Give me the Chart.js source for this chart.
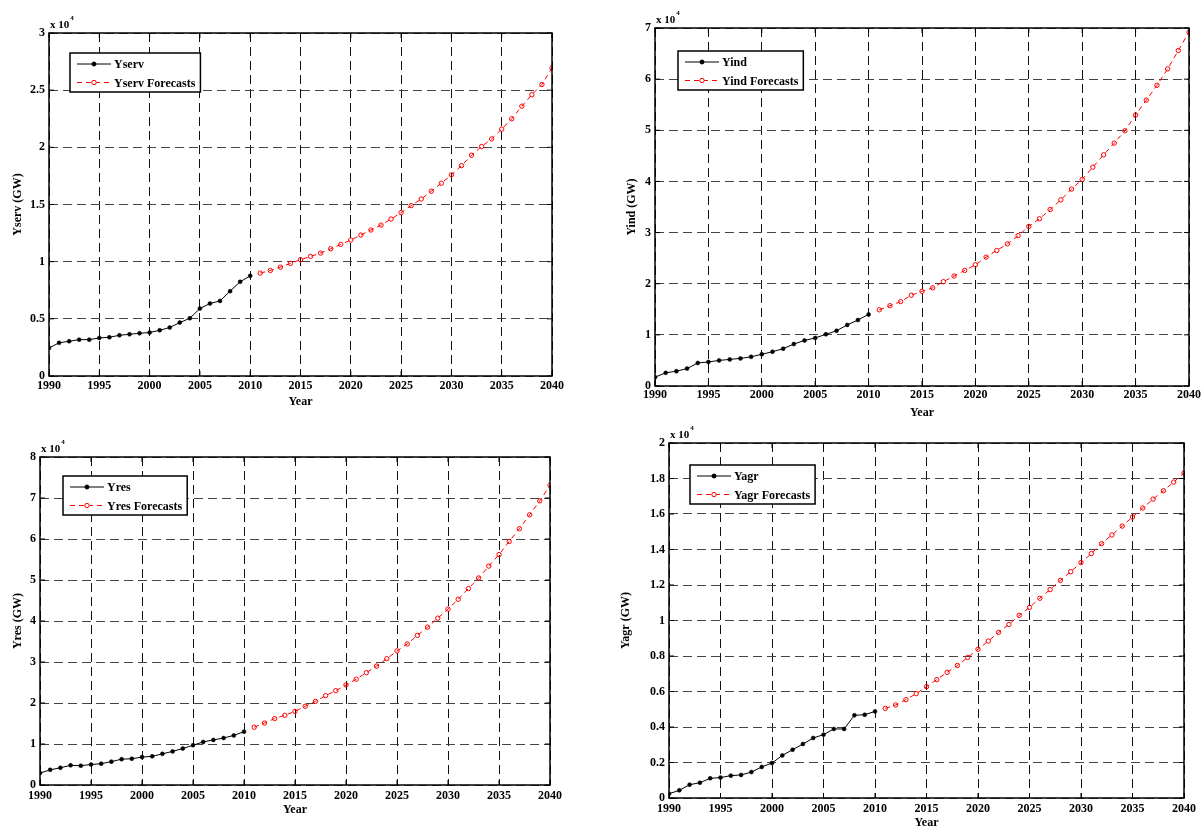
<!DOCTYPE html>
<html>
<head>
<meta charset="utf-8">
<script src="https://cdn.jsdelivr.net/npm/chart.js@4"></script>
<style>
  body { margin: 0; background: #fff; }
  canvas { position: absolute; }
</style>
</head>
<body>
<canvas id="serv" width="600" height="410" style="left:0px;top:0px"></canvas>
<canvas id="ind" width="603" height="420" style="left:600px;top:0px"></canvas>
<canvas id="res" width="600" height="403" style="left:0px;top:415px"></canvas>
<canvas id="agr" width="603" height="411" style="left:600px;top:420px"></canvas>
<script>
const histYears = [1990, 1991, 1992, 1993, 1994, 1995, 1996, 1997, 1998, 1999, 2000,
  2001, 2002, 2003, 2004, 2005, 2006, 2007, 2008, 2009, 2010]
const fcYears = [2011, 2012, 2013, 2014, 2015, 2016, 2017, 2018, 2019, 2020,
  2021, 2022, 2023, 2024, 2025, 2026, 2027, 2028, 2029, 2030,
  2031, 2032, 2033, 2034, 2035, 2036, 2037, 2038, 2039, 2040]

// GW
const servHist = [2450, 2900, 3040, 3180, 3180, 3330, 3390, 3560, 3650, 3740, 3800,
  4000, 4240, 4670, 5050, 5900, 6340, 6570, 7420, 8240, 8760]
const servFc = [9000, 9230, 9520, 9850, 10170, 10460, 10750, 11130, 11510, 11890,
  12330, 12770, 13200, 13730, 14290, 14900, 15480, 16160, 16860, 17590,
  18400, 19310, 20070, 20740, 21590, 22500, 23600, 24600, 25500, 26940]

const indHist = [1730, 2570, 2900, 3400, 4500, 4700, 5000, 5200, 5400, 5700, 6200,
  6700, 7300, 8200, 8900, 9400, 10100, 10800, 11950, 12900, 14000]
const indFc = [14900, 15700, 16500, 17750, 18500, 19200, 20400, 21500, 22600, 23700,
  25200, 26500, 27800, 29400, 31200, 32700, 34500, 36400, 38500, 40400,
  42800, 45200, 47500, 49900, 53000, 55900, 58800, 62000, 65600, 69200]

const resHist = [2900, 3700, 4200, 4800, 4700, 5000, 5200, 5700, 6300, 6400, 6800,
  7000, 7600, 8200, 8900, 9700, 10500, 11000, 11450, 12100, 13000]
const resFc = [14100, 15100, 16200, 17000, 17950, 19200, 20400, 21800, 23000, 24400,
  25800, 27400, 29000, 30800, 32700, 34400, 36500, 38500, 40700, 42900,
  45300, 47900, 50500, 53400, 56200, 59400, 62500, 65900, 69300, 73100]

const agrHist = [240, 430, 750, 860, 1110, 1150, 1260, 1300, 1460, 1750, 1970,
  2400, 2720, 3040, 3380, 3570, 3890, 3890, 4660, 4690, 4880]
const agrFc = [5050, 5240, 5540, 5880, 6270, 6670, 7080, 7470, 7920, 8380,
  8840, 9330, 9780, 10290, 10740, 11250, 11740, 12260, 12750, 13260,
  13770, 14330, 14820, 15320, 15830, 16340, 16840, 17310, 17800, 18310]

const serif = '"Liberation Serif", "Times New Roman", serif'
Chart.defaults.font.family = serif
Chart.defaults.color = '#000'

// matlab style box, inner ticks, exponent and boxed legend
const frame = {
  id: 'frame',
  afterDraw(chart, args, opts) {
    const ctx = chart.ctx
    const a = chart.chartArea
    const xs = chart.scales.x, ys = chart.scales.y
    ctx.save()
    ctx.strokeStyle = '#000'
    ctx.lineWidth = 1
    ctx.setLineDash([])
    ctx.beginPath()
    xs.ticks.forEach(t => {
      const px = xs.getPixelForValue(t.value)
      ctx.moveTo(px, a.bottom); ctx.lineTo(px, a.bottom - 5)
      ctx.moveTo(px, a.top); ctx.lineTo(px, a.top + 5)
    })
    ys.ticks.forEach(t => {
      const py = ys.getPixelForValue(t.value)
      ctx.moveTo(a.left, py); ctx.lineTo(a.left + 5, py)
      ctx.moveTo(a.right, py); ctx.lineTo(a.right - 5, py)
    })
    ctx.stroke()
    ctx.lineWidth = 1.5
    ctx.strokeRect(a.left, a.top, a.right - a.left, a.bottom - a.top)

    ctx.fillStyle = '#000'
    ctx.textBaseline = 'alphabetic'
    ctx.textAlign = 'left'
    ctx.font = 'bold 11px ' + serif
    ctx.fillText('x 10', a.left + 1, a.top - 5)
    const w = ctx.measureText('x 10').width
    ctx.font = 'bold 7px ' + serif
    ctx.fillText('4', a.left + 2 + w, a.top - 13)

    // legend
    const lx = a.left + opts.dx, ly = a.top + opts.dy
    ctx.font = 'bold 12px ' + serif
    const sets = chart.data.datasets
    const tw = Math.max(...sets.map(d => ctx.measureText(d.label).width))
    const bw = 44 + tw + 5, bh = 39
    ctx.fillStyle = '#fff'
    ctx.fillRect(lx, ly, bw, bh)
    ctx.strokeStyle = '#000'
    ctx.lineWidth = 1.5
    ctx.strokeRect(lx, ly, bw, bh)
    sets.forEach((d, i) => {
      const y = ly + 11 + i * 18.5
      ctx.strokeStyle = d.borderColor
      ctx.lineWidth = 1
      ctx.setLineDash(d.borderDash || [])
      ctx.beginPath()
      ctx.moveTo(lx + 7, y); ctx.lineTo(lx + 41, y)
      ctx.stroke()
      ctx.setLineDash([])
      ctx.beginPath()
      ctx.arc(lx + 24, y, d.pointRadius, 0, Math.PI * 2)
      ctx.fillStyle = i == 0 ? d.pointBackgroundColor : '#fff'
      ctx.fill()
      ctx.strokeStyle = d.pointBorderColor
      ctx.stroke()
      ctx.fillStyle = '#000'
      ctx.textBaseline = 'middle'
      ctx.fillText(d.label, lx + 44, y + 1)
    })
    ctx.restore()
  }
}

function pts(years, vals) {
  return years.map((y, i) => ({ x: y, y: vals[i] }))
}

function makeChart(id, name, hist, fc, ymax, ystep, lay) {
  const tickFont = { size: 12, weight: 'bold' }
  new Chart(id, {
    type: 'line',
    data: {
      datasets: [{
        label: name,
        data: pts(histYears, hist),
        borderColor: '#000',
        borderWidth: 1,
        pointRadius: 2,
        pointBackgroundColor: '#000',
        pointBorderColor: '#000',
        pointBorderWidth: 0.5
      }, {
        label: name + ' Forecasts',
        data: pts(fcYears, fc),
        borderColor: '#ff0000',
        borderWidth: 1,
        borderDash: [5, 4],
        pointRadius: 2.2,
        pointBackgroundColor: 'rgba(255,255,255,0)',
        pointBorderColor: '#ff0000',
        pointBorderWidth: 1
      }]
    },
    options: {
      responsive: false,
      animation: false,
      layout: { padding: { left: 0, top: lay.top, right: lay.right, bottom: 0 } },
      scales: {
        x: {
          type: 'linear',
          min: 1990,
          max: 2040,
          afterFit: s => { s.height = lay.xh },
          ticks: { stepSize: 5, padding: lay.tp, font: tickFont, color: '#000', callback: v => String(v), maxRotation: 0 },
          grid: { color: '#111', lineWidth: 1, drawTicks: false },
          border: { display: false, dash: [9, 5] },
          title: { display: true, text: 'Year', font: tickFont, color: '#000', padding: { top: 0, bottom: lay.xb } }
        },
        y: {
          min: 0,
          max: ymax,
          afterFit: s => { s.width = lay.yw },
          ticks: { stepSize: ystep, padding: 4, font: tickFont, color: '#000', callback: v => String(+(v / 1e4).toFixed(1)) },
          grid: { color: '#444', lineWidth: 1, drawTicks: false },
          border: { display: false, dash: [9, 5] },
          title: { display: true, text: name + ' (GW)', font: tickFont, color: '#000', padding: { top: lay.yt, bottom: 0 } }
        }
      },
      plugins: {
        legend: { display: false },
        tooltip: { enabled: false },
        frame: { dx: lay.dx, dy: lay.dy }
      }
    },
    plugins: [frame]
  })
}

makeChart('serv', 'Yserv', servHist, servFc, 30000, 5000,
  { top: 33, right: 48, yw: 49, xh: 34, tp: 3, xb: 1, yt: 11, dx: 21, dy: 20 })
makeChart('ind', 'Yind', indHist, indFc, 70000, 10000,
  { top: 28, right: 13, yw: 55, xh: 34, tp: 2, xb: 0, yt: 25, dx: 23, dy: 23 })
makeChart('res', 'Yres', resHist, resFc, 80000, 10000,
  { top: 42, right: 50, yw: 40, xh: 33, tp: 4, xb: 1, yt: 11, dx: 23, dy: 19 })
makeChart('agr', 'Yagr', agrHist, agrFc, 20000, 2000,
  { top: 23, right: 19, yw: 69, xh: 33, tp: 4, xb: 1, yt: 19, dx: 21, dy: 22 })
</script>
</body>
</html>
